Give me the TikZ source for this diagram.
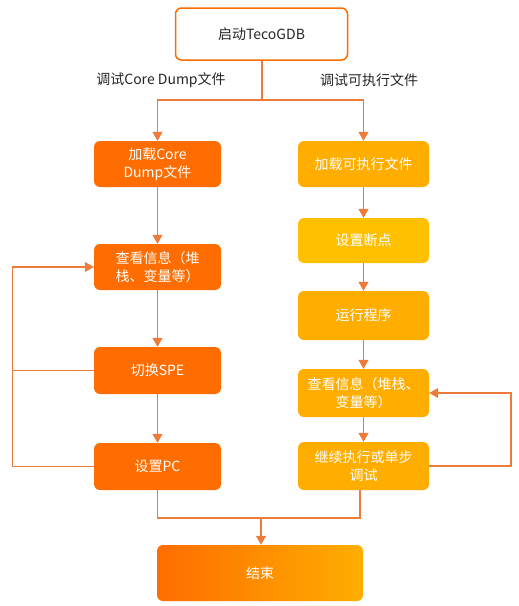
\documentclass[tikz,border=0pt]{standalone}
\usepackage{fontspec}
\setmainfont{Noto Sans CJK SC}
\usetikzlibrary{arrows.meta,shadings}
\definecolor{orL}{HTML}{FF6D00}
\definecolor{orR}{HTML}{FFAE00}
\definecolor{orY}{HTML}{FFC000}
\definecolor{lnC}{HTML}{EE7B3A}
\tikzset{
  box/.style={rounded corners=6pt, minimum height=46pt, align=center, text=white,
    font=\fontsize{14pt}{18pt}\selectfont, inner sep=0pt},
  lbox/.style={box, fill=orL, minimum width=127pt, text width=120pt},
  rbox/.style={box, fill=orR, minimum width=131pt, text width=126pt},
  conn/.style={draw=lnC, line width=1.1pt},
  arr/.style={conn, -{Triangle[length=9pt,width=10pt]}},
  lbl/.style={font=\fontsize{14pt}{18pt}\selectfont, text=black!85, inner sep=0pt},
}
\begin{document}
\begin{tikzpicture}[x=1pt,y=-1pt]
\useasboundingbox (0,0) rectangle (519,606);
% start
\node[box, draw=orL, line width=1.5pt, fill=white, text=black!85, minimum width=172pt, minimum height=52pt] (start) at (261.5,34) {启动TecoGDB};
% left column
\node[lbox] (l1) at (157.5,164) {加载Core\\Dump文件};
\node[lbox] (l2) at (157.5,267) {查看信息（堆\\栈、变量等）};
\node[lbox, minimum height=47pt] (l3) at (157.5,370.5) {切换SPE};
\node[lbox, minimum height=47pt] (l4) at (157.5,466.5) {设置PC};
% right column
\node[rbox] (r1) at (363.5,164) {加载可执行文件};
\node[rbox, fill=orY, minimum height=45pt] (r2) at (363.5,240.5) {设置断点};
\node[rbox, minimum height=49pt] (r3) at (363.5,315.5) {运行程序};
\node[rbox, minimum height=48pt] (r4) at (363.5,393) {查看信息（堆栈、\\变量等）};
\node[rbox, minimum height=48pt] (r5) at (363.5,466) {继续执行或单步\\调试};
% end
\node[box, left color=orL, right color=orR, minimum width=206pt, minimum height=56pt] (end) at (260,573) {结束};
% labels
\node[lbl] (la) at (161,80) {调试Core Dump文件};
\node[lbl] (lb) at (369,80) {调试可执行文件};
% branching
\coordinate (bm) at (262,100);
\draw[conn] (start.south -| bm) -- (bm);
\draw[arr] (bm) -| (l1.north);
\draw[arr] (bm) -| (r1.north);
% left chain
\draw[arr] (l1) -- (l2);
\draw[arr] (l2) -- (l3);
\draw[arr] (l3) -- (l4);
% right chain
\draw[arr] (r1) -- (r2);
\draw[arr] (r2) -- (r3);
\draw[arr] (r3) -- (r4);
\draw[arr] (r4) -- (r5);
% left loop
\coordinate (lx) at (12.5,0);
\draw[conn] (l3.west) -- (l3.west -| lx);
\draw[arr] (l4.west) -- (l4.west -| lx) -- (l2.west -| lx) -- (l2.west);
% right loop
\coordinate (rx) at (511,0);
\draw[arr] (r5.east) -- (r5.east -| rx) -- (r4.east -| rx) -- (r4.east);
% merge
\coordinate (mm) at (261,518);
\draw[conn] (l4.south) |- (mm);
\draw[conn] (r5.south -| 360,0) |- (mm);
\draw[arr] (mm) -- (end.north -| mm);
\end{tikzpicture}
\end{document}
